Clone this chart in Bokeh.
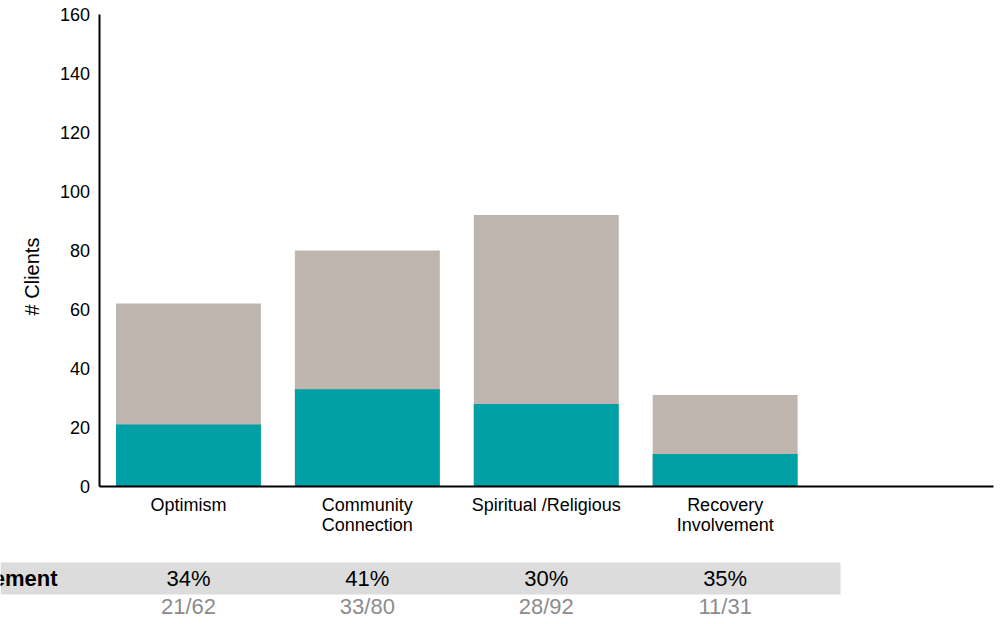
import math
from bokeh.plotting import figure
from bokeh.models import Range1d, FixedTicker, LinearAxis, ColumnDataSource
from bokeh.embed import file_html
from bokeh.resources import INLINE
from bokeh.core.properties import value

# ---- data ----
categories = ["Optimism", "Community\nConnection", "Spiritual /Religious", "Recovery\nInvolvement"]
totals = [62, 80, 92, 31]
improved = [21, 33, 28, 11]
percent_labels = ["34%", "41%", "30%", "35%"]
fraction_labels = ["21/62", "33/80", "28/92", "11/31"]
row_title = "ement"
y_label = "# Clients"
y_ticks = [0, 20, 40, 60, 80, 100, 120, 140, 160]
y_max = 160
n_slots = 5  # four categories plus one empty slot at the right

# ---- layout / style (pixel geometry of the picture) ----
FONT = "Liberation Sans"
TEAL = "#00A0A6"
TAUPE = "#BEB5AF"
BAND = "#DCDCDC"
GREY_TXT = "#8C8C8C"

W, H = 994, 620
AXIS_X_PX = 98.5      # y axis position
AXIS_END_PX = 993.0   # right end of x axis
TOP_PX = 14.0         # y = 160
ZERO_PX = 486.0       # y = 0
BAR_W = 0.81

px_per_x = (AXIS_END_PX - AXIS_X_PX) / n_slots
px_per_y = (ZERO_PX - TOP_PX) / y_max
x_lo = -0.5 - AXIS_X_PX / px_per_x
x_hi = -0.5 + (W - AXIS_X_PX) / px_per_x
y_hi = ZERO_PX / px_per_y
y_lo = -(H - ZERO_PX) / px_per_y


def x_at(px):
    return -0.5 + (px - AXIS_X_PX) / px_per_x


def y_at(py):
    return (ZERO_PX - py) / px_per_y


xs = list(range(len(categories)))
src = ColumnDataSource(dict(x=xs, total=totals, improved=improved,
                            pct=percent_labels, frac=fraction_labels))

p = figure(width=W, height=H, x_range=Range1d(x_lo, x_hi), y_range=Range1d(y_lo, y_hi),
           output_backend="svg", toolbar_location=None,
           x_axis_type=None, y_axis_type=None, min_border=0)
p.outline_line_color = None
p.background_fill_color = "white"
p.border_fill_color = "white"

p.vbar(x="x", top="total", bottom=0, width=BAR_W, source=src,
       fill_color=TAUPE, line_color=None)
p.vbar(x="x", top="improved", bottom=0, width=BAR_W, source=src,
       fill_color=TEAL, line_color=None)

yaxis = LinearAxis(fixed_location=-0.5, bounds=(0, y_max), ticker=FixedTicker(ticks=y_ticks))
xaxis = LinearAxis(fixed_location=0, bounds=(-0.5, n_slots - 0.5), ticker=FixedTicker(ticks=xs))
xaxis.major_label_overrides = {i: c for i, c in enumerate(categories)}
for ax in (xaxis, yaxis):
    ax.axis_line_color = "black"
    ax.axis_line_width = 2
    ax.major_tick_line_color = None
    ax.minor_tick_line_color = None
    ax.major_tick_out = 0
    ax.major_tick_in = 0
    ax.major_label_text_font = FONT
    ax.major_label_text_font_size = "18px"
    ax.major_label_text_color = "black"
yaxis.major_label_standoff = 9
xaxis.major_label_standoff = 8
xaxis.major_label_text_line_height = 1.0
p.add_layout(yaxis, "left")
p.add_layout(xaxis, "below")

# y axis title
p.text(x=[x_at(31)], y=[y_at(276)], text=[y_label], angle=math.pi / 2,
       text_align="center", text_baseline="middle",
       text_font=value(FONT), text_font_size="20px", text_color="black")

# ---- table below the chart ----
p.quad(left=x_lo, right=x_at(840), top=y_at(562), bottom=y_at(594),
       fill_color=BAND, line_color=None)
p.text(x="x", y=y_at(578), text="pct", source=src, text_align="center", text_baseline="middle",
       text_font=value(FONT), text_font_size="22px", text_color="black")
p.text(x="x", y=y_at(606), text="frac", source=src, text_align="center", text_baseline="middle",
       text_font=value(FONT), text_font_size="22px", text_color=GREY_TXT)
p.text(x=[x_at(57)], y=[y_at(578)], text=[row_title], text_align="right", text_baseline="middle",
       text_font=value(FONT), text_font_size="22px", text_font_style="bold", text_color="black")

open("out.html", "w").write(file_html(p, INLINE))
